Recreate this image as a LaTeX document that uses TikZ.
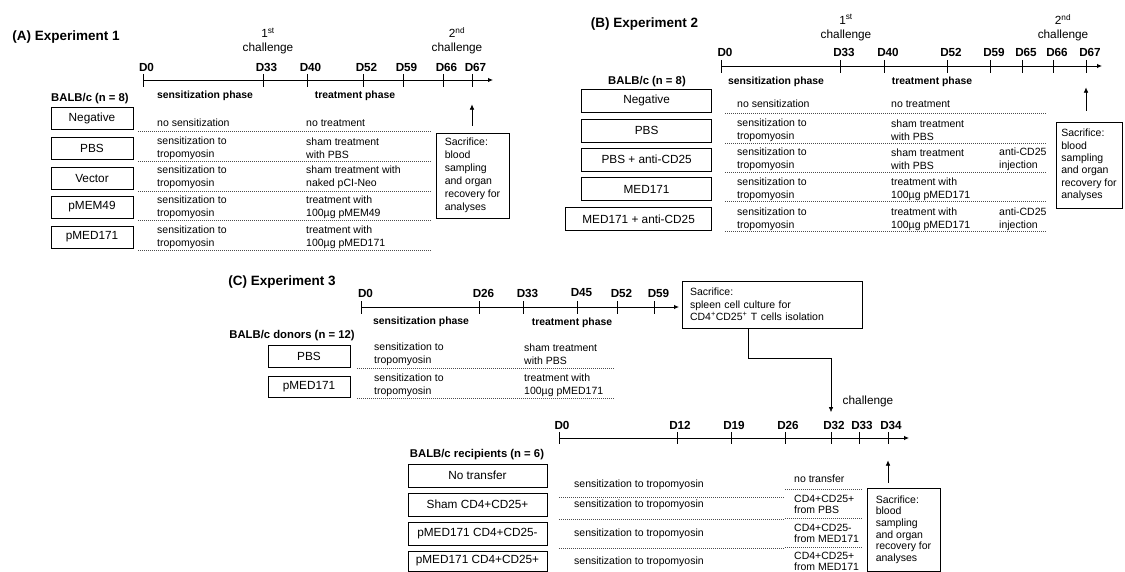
\documentclass[tikz,border=0pt]{standalone}
\usepackage{fontspec}
\setmainfont{Liberation Sans}
\usetikzlibrary{arrows.meta, positioning, calc}

\begin{document}
\begin{tikzpicture}[x=1pt, y=-1pt, >={Latex[length=5pt, width=4.5pt]},
    every node/.style={inner sep=0pt},
    paneltitle/.style={font=\bfseries\fontsize{13.5}{16}\selectfont},
    daylbl/.style={font=\bfseries\fontsize{11.7}{14}\selectfont},
    phaselbl/.style={font=\bfseries\fontsize{10.4}{12}\selectfont},
    grouplbl/.style={font=\bfseries\fontsize{11.3}{13}\selectfont},
    grpbox/.style={draw, line width=0.8pt, minimum height=22pt,
        font=\fontsize{11.8}{14}\selectfont},
    rowtxt/.style={anchor=west, align=left, font=\fontsize{10.5}{13.2}\selectfont},
    challenge/.style={align=center, font=\fontsize{11.8}{14}\selectfont},
    sacbox/.style={draw, line width=0.8pt, align=left},
    dotrule/.style={black!70, line width=0.6pt, dash pattern=on 1pt off 1pt},
    axis/.style={line width=0.9pt, ->},
    daytick/.style={line width=0.8pt}]
\useasboundingbox (0,0) rectangle (1125,572);

% ---------------- (A) Experiment 1 ----------------
\node[paneltitle] (Atitle) at (66,37) {(A) Experiment 1};
\draw[axis] (143,80) -- (493,80);
\foreach \d/\x in {0/143,33/263,40/307,52/363,59/403,66/443,67/472}{
  \coordinate (A\d) at (\x,80);
  \draw[daytick] (\x,74) -- (\x,87);
  \node[daylbl] (A-D\d) at (\x+3.5,67) {D\d};
}
\node[challenge] (Ach1) at (268,41) {1\textsuperscript{st}\\challenge};
\node[challenge] (Ach2) at (457,41) {2\textsuperscript{nd}\\challenge};
\node[phaselbl] (Asens) at (205,96) {sensitization phase};
\node[phaselbl] (Atreat) at (355,96) {treatment phase};
\node[grouplbl] (Amice) at (90,99) {BALB/c (n = 8)};
\foreach \n/\b/\o/\g/\s/\t in {
    neg/118/5/Negative/{no sensitization}/{no treatment},
    pbs/148/0/PBS/{sensitization to\\tropomyosin}/{sham treatment\\with PBS},
    vec/178/-1/Vector/{sensitization to\\tropomyosin}/{sham treatment with\\naked pCI-Neo},
    mem/207/0/pMEM49/{sensitization to\\tropomyosin}/{treatment with\\100µg pMEM49},
    med/237/0/pMED171/{sensitization to\\tropomyosin}/{treatment with\\100µg pMED171}}{
  \node[grpbox, minimum width=82pt] (A\n) at (92,\b) {\g};
  \node[rowtxt] (A\n-s) at (157,\b+\o) {\s};
  \node[rowtxt] (A\n-t) at (306,\b+\o) {\t};
  \draw[dotrule] (138,\b+13) -- (432,\b+13);
}
\node[sacbox, minimum width=73pt, minimum height=85pt,
    font=\fontsize{10.5}{13}\selectfont] (Asac) at (472.5,175.5)
    {Sacrifice:\\blood\\sampling\\and organ\\recovery for\\analyses};
\draw[->, shorten <=7pt] (Asac.north -| A67) -- ++(0,-28);

% ---------------- (B) Experiment 2 ----------------
\node[paneltitle] (Btitle) at (644.5,24) {(B) Experiment 2};
\draw[axis] (721,66) -- (1102,66);
\foreach \d/\x in {0/721,33/840,40/884,52/947,59/990,65/1022,66/1053,67/1086}{
  \coordinate (B\d) at (\x,66);
  \draw[daytick] (\x,60) -- (\x,73);
  \node[daylbl] (B-D\d) at (\x+4,52) {D\d};
}
\node[challenge] (Bch1) at (846,27.5) {1\textsuperscript{st}\\challenge};
\node[challenge] (Bch2) at (1063,27.5) {2\textsuperscript{nd}\\challenge};
\node[phaselbl] (Bsens) at (776,82) {sensitization phase};
\node[phaselbl] (Btreat) at (932,82) {treatment phase};
\node[grouplbl] (Bmice) at (647,82) {BALB/c (n = 8)};
\foreach \n/\b/\w/\o/\g/\s/\t/\e in {
    neg/100.5/130/3.5/Negative/{no sensitization}/{no treatment}/{},
    pbs/130.5/130/0/PBS/{sensitization to\\tropomyosin}/{sham treatment\\with PBS}/{},
    pbsa/159.5/130/0/PBS + anti-CD25/{sensitization to\\tropomyosin}/{sham treatment\\with PBS}/{anti-CD25\\injection},
    med/189/130/0/MED171/{sensitization to\\tropomyosin}/{treatment with\\100µg pMED171}/{},
    meda/219/146/0/MED171 + anti-CD25/{sensitization to\\tropomyosin}/{treatment with\\100µg pMED171}/{anti-CD25\\injection}}{
  \node[grpbox, minimum height=23pt, minimum width=\w pt, anchor=east] (B\n) at (712,\b) {\g};
  \node[rowtxt] (B\n-s) at (737,\b+\o) {\s};
  \node[rowtxt] (B\n-t) at (891,\b+\o) {\t};
  \node[rowtxt] (B\n-e) at (999,\b+\o) {\e};
  \draw[dotrule] (725,\b+12.5) -- (1046,\b+12.5);
}
\node[sacbox, minimum width=66pt, minimum height=86pt,
    font=\fontsize{10.5}{12.4}\selectfont] (Bsac) at (1089,165)
    {Sacrifice:\\blood\\sampling\\and organ\\recovery for\\analyses};
\draw[->, shorten <=11pt] (Bsac.north -| B67) -- ++(0,-34);

% ---------------- (C) Experiment 3 ----------------
\node[paneltitle] (Ctitle) at (282,282) {(C) Experiment 3};
% donors
\draw[axis] (361,307) -- (679,307);
\foreach \d/\x in {0/361,26/479,33/523,45/577,52/617,59/654}{
  \coordinate (Cd\d) at (\x,307);
  \draw[daytick] (\x,301) -- (\x,314);
  \node[daylbl] (Cd-D\d) at (\x+4.5,293) {D\d};
}
\node[phaselbl] (Csens) at (421,322) {sensitization phase};
\node[phaselbl] (Ctreat) at (572,323) {treatment phase};
\node[grouplbl] (Cdonors) at (292,336) {BALB/c donors (n = 12)};
\foreach \n/\b/\g/\t in {
    pbs/356.5/PBS/{sham treatment\\with PBS},
    med/387/pMED171/{treatment with\\100µg pMED171}}{
  \node[grpbox, minimum height=21.5pt, minimum width=82pt] (Cd\n) at (309,\b) {\g};
  \node[rowtxt] (Cd\n-s) at (374,\b-2) {sensitization to\\tropomyosin};
  \node[rowtxt] (Cd\n-t) at (524,\b-2) {\t};
  \draw[dotrule] (357,\b+11.5) -- (615,\b+11.5);
}
\node[sacbox, text width=164pt, inner xsep=8pt, minimum height=47pt,
    font=\fontsize{10.5}{12.5}\selectfont] (Csac) at (772,304.5)
    {Sacrifice:\\spleen cell culture for\\CD4\textsuperscript{+}CD25\textsuperscript{+} T cells isolation};

% recipients
\draw[axis] (559,438) -- (909,438);
\foreach \d/\x in {0/559,12/677,19/731,26/785,32/831,33/859,34/888}{
  \coordinate (Cr\d) at (\x,438);
  \draw[daytick] (\x,432) -- (\x,444);
  \node[daylbl] (Cr-D\d) at (\x+3,425) {D\d};
}
\coordinate (Cin) at ($(Cr32)+(0,-26)$);
\draw[->] ([xshift=-24pt]Csac.south) -- ++(0,30) -| (Cin);
\node[challenge] (Cch) at (868,401) {challenge};
\node[grouplbl] (Crecip) at (477,455) {BALB/c recipients (n = 6)};
\foreach \n/\b/\h/\l/\r/\t in {
    none/475.5/23/9.5/3.5/{no transfer},
    sham/504.5/23/0/0/{CD4+CD25+\\from PBS},
    mneg/533.5/23/0/0/{CD4+CD25-\\from MED171},
    mpos/561/20/1/0.5/{CD4+CD25+\\from MED171}}{
  \node[rowtxt] (Cr\n-s) at (574,\b+\l) {sensitization to tropomyosin};
  \node[rowtxt, font=\fontsize{10.5}{11.5}\selectfont] (Cr\n-t) at (794,\b+\r) {\t};
}
\node[grpbox, minimum height=23pt, minimum width=139pt] (Crnone) at (477.5,475.5) {No transfer};
\node[grpbox, minimum height=23pt, minimum width=139pt] (Crsham) at (477.5,504.5) {Sham CD4+CD25+};
\node[grpbox, minimum height=23pt, minimum width=139pt] (Crmneg) at (477.5,533.5) {pMED171 CD4+CD25-};
\node[grpbox, minimum height=20pt, minimum width=139pt] (Crmpos) at (477.5,561) {pMED171 CD4+CD25+};
\foreach \yl/\yr in {497/489,519/518,548/547}{
  \draw[dotrule] (559,\yl) -- (785,\yl);
  \draw[dotrule] (785,\yr) -- (863,\yr);
}
\node[sacbox, minimum width=73pt, minimum height=83pt,
    font=\fontsize{10.5}{11.6}\selectfont] (Crsac) at (903.5,529.5)
    {Sacrifice:\\blood\\sampling\\and organ\\recovery for\\analyses};
\draw[->, shorten <=5pt] (Crsac.north -| Cr34) -- ++(0,-27);
\end{tikzpicture}
\end{document}
